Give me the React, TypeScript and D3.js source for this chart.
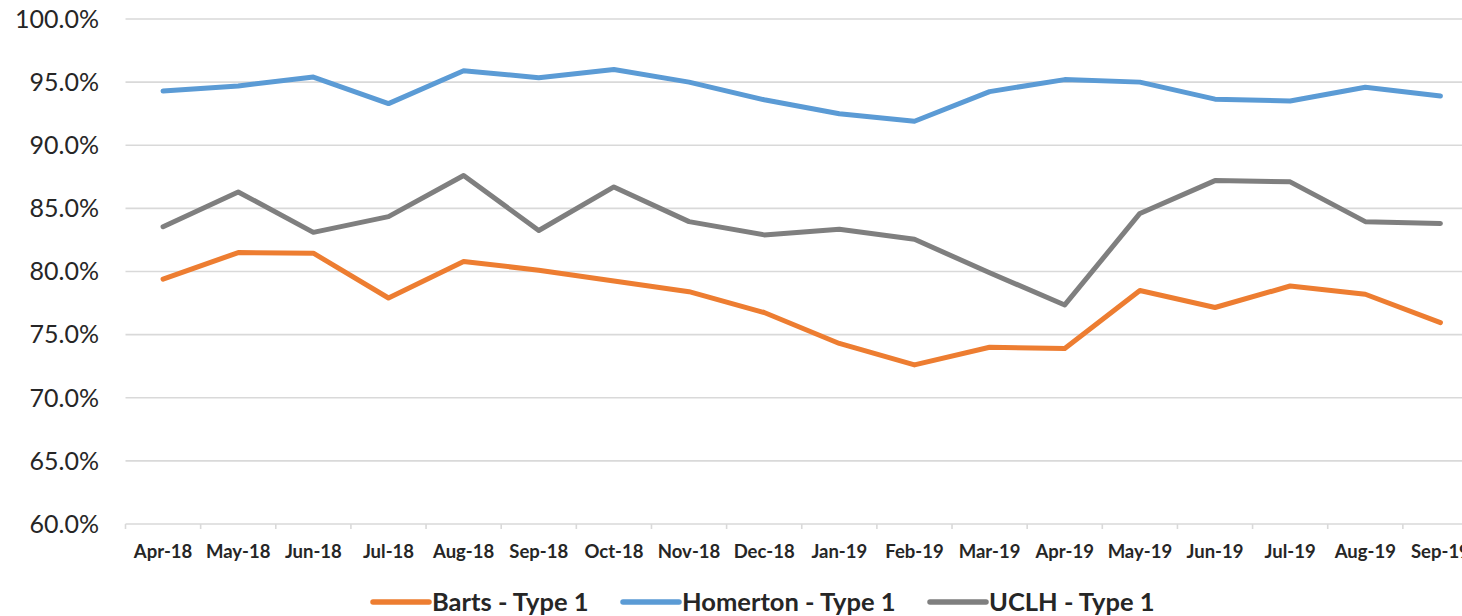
import React from "react";
import * as d3 from "d3";

const months = ["Apr-18","May-18","Jun-18","Jul-18","Aug-18","Sep-18","Oct-18","Nov-18","Dec-18","Jan-19","Feb-19","Mar-19","Apr-19","May-19","Jun-19","Jul-19","Aug-19","Sep-19"];
const barts = [79.4,81.5,81.45,77.9,80.8,80.1,79.25,78.4,76.75,74.3,72.6,74.0,73.9,78.5,77.15,78.85,78.2,75.95];
const homerton = [94.3,94.7,95.4,93.3,95.9,95.35,96.0,95.0,93.6,92.5,91.9,94.25,95.2,95.0,93.65,93.5,94.6,93.9];
const uclh = [83.55,86.3,83.1,84.35,87.6,83.25,86.7,83.95,82.9,83.35,82.55,79.9,77.35,84.6,87.2,87.1,83.95,83.8];
const yTicks = [60,65,70,75,80,85,90,95,100];

const seriesList = [
  { name: "Barts - Type 1", values: barts, color: "#ED7D31" },
  { name: "Homerton - Type 1", values: homerton, color: "#5B9BD5" },
  { name: "UCLH - Type 1", values: uclh, color: "#7F7F7F" },
];
const legendX = [373, 623, 930];

export default function App() {
  const W = 1462, H = 616;
  const left = 125.5, right = 1478, top = 19, bottom = 524;
  const x = d3.scaleBand<string>().domain(months).range([left, right]);
  const y = d3.scaleLinear().domain([60, 100]).range([bottom, top]);
  const line = d3.line<number>()
    .x((_, i) => (x(months[i]) as number) + x.bandwidth() / 2)
    .y((d) => y(d));
  const font = "Lato, 'Open Sans', sans-serif";
  return (
    <svg width={W} height={H} style={{ position: "absolute", left: 0, top: 0, background: "#fff" }}>
      {yTicks.map((t) => (
        <g key={t}>
          <line x1={left} x2={W} y1={y(t)} y2={y(t)} stroke="#D9D9D9" strokeWidth={1.6} />
          <text x={99} y={y(t)} dy="0.35em" textAnchor="end" fontFamily={font} fontSize={25} fill="#262626">
            {t.toFixed(1)}%
          </text>
        </g>
      ))}
      {months.map((m, i) => (
        <g key={m}>
          <line x1={x(m)} x2={x(m)} y1={bottom} y2={bottom + 5} stroke="#D9D9D9" strokeWidth={1.6} />
          <text x={(x(m) as number) + x.bandwidth() / 2} y={552} dy="0.35em" textAnchor="middle"
            fontFamily={font} fontWeight="bold" fontSize={18.5} fill="#262626">{m}</text>
        </g>
      ))}
      {seriesList.map((s) => (
        <path key={s.name} d={line(s.values) || ""} fill="none" stroke={s.color} strokeWidth={5}
          strokeLinejoin="round" strokeLinecap="round" />
      ))}
      {seriesList.map((s, i) => (
        <g key={s.name}>
          <line x1={legendX[i]} x2={legendX[i] + 56} y1={602} y2={602} stroke={s.color} strokeWidth={5.5} strokeLinecap="round" />
          <text x={legendX[i] + 59} y={602} dy="0.35em" fontFamily={font} fontWeight="bold" fontSize={25.5} fill="#262626">{s.name}</text>
        </g>
      ))}
    </svg>
  );
}
